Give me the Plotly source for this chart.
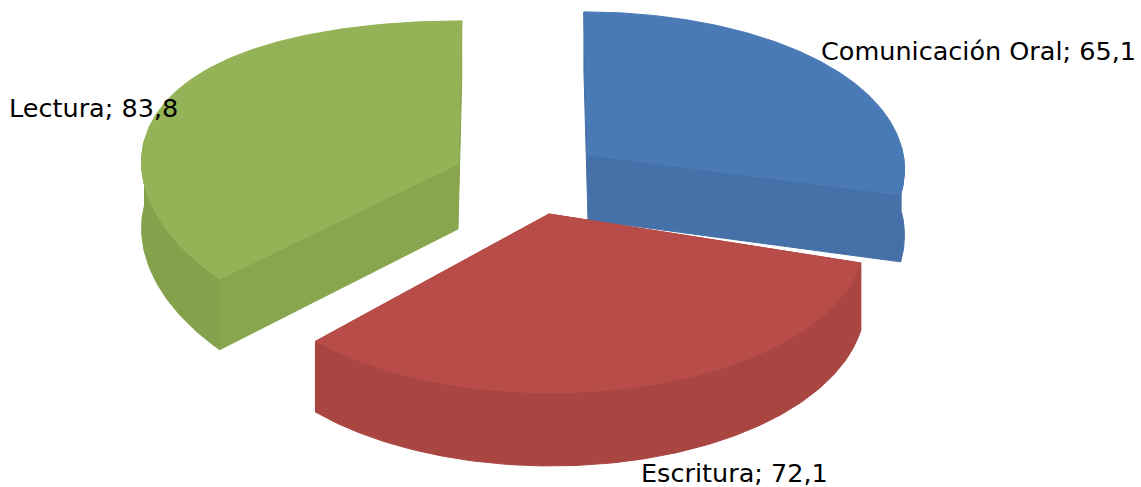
import numpy as np
import plotly.graph_objects as go

categories = ["Comunicación Oral", "Escritura", "Lectura"]
values = [65.1, 72.1, 83.8]
value_labels = ["65,1", "72,1", "83,8"]

top_colors = ["#4a7ab6", "#b84c48", "#94b356"]
side_colors = ["#4671a8", "#a94642", "#88a64e"]
wall_colors = ["#4671a8", "#a94642", "#84a14c"]

# apex and side flattening of each exploded slice on the pixel-like canvas
apex = {"Comunicación Oral": (588, 155), "Escritura": (549, 214), "Lectura": (458, 164)}
flatten = {"Comunicación Oral": 6, "Escritura": -4, "Lectura": 22}
label_pos = {"Comunicación Oral": (819, 51), "Escritura": (639, 473), "Lectura": (7, 108)}
draw_order = ["Comunicación Oral", "Lectura", "Escritura"]

RX, RY, K, DEPTH, VX, LEAN = 314, 159, 0.111, 65, 520, 0.6
W, H = 1141, 487


def project(cx, cy, radius, theta, down, flat):
    X, Y = radius * np.sin(theta), radius * np.cos(theta)
    s = 1 / (1 + K * Y)
    px = cx + RX * X * s + LEAN * (cx - VX) * (s - 1)
    py = cy - RY * Y * s + down * s - flat * X * X
    return px, py


fig = go.Figure()


def poly(xs, ys, color):
    fig.add_trace(go.Scatter(
        x=list(xs), y=list(ys), mode="lines", fill="toself", fillcolor=color,
        line=dict(color=color, width=1), hoverinfo="skip", showlegend=False))


edges = np.cumsum([0] + values) / sum(values) * 2 * np.pi
for name in draw_order:
    i = categories.index(name)
    a0, a1 = edges[i], edges[i + 1]
    cx, cy = apex[name]
    f = flatten[name]
    thetas = np.linspace(a0, a1, 160)
    # radial cut faces
    for a in (a0, a1):
        p = [project(cx, cy, r, a, d, f) for r, d in ((0, 0), (1, 0), (1, DEPTH), (0, DEPTH))]
        poly([q[0] for q in p], [q[1] for q in p], side_colors[i])
    # outer curved wall, front half only
    front = thetas[np.cos(thetas) < 0.02]
    if len(front):
        tx, ty = project(cx, cy, 1, front, 0, f)
        bx, by = project(cx, cy, 1, front, DEPTH, f)
        poly(np.r_[tx, bx[::-1]], np.r_[ty, by[::-1]], wall_colors[i])
    # top face
    ax, ay = project(cx, cy, 1, thetas, 0, f)
    poly(np.r_[cx, ax, cx], np.r_[cy, ay, cy], top_colors[i])

annotations = [
    dict(x=label_pos[c][0], y=label_pos[c][1], text=f"{c}; {v}", showarrow=False,
         xanchor="left", yanchor="middle", xref="x", yref="y",
         font=dict(family="DejaVu Sans", size=25.5, color="black"))
    for c, v in zip(categories, value_labels)
]

fig.update_layout(
    width=W, height=H, margin=dict(l=0, r=0, t=0, b=0),
    paper_bgcolor="white", plot_bgcolor="white", showlegend=False,
    xaxis=dict(range=[0, W], visible=False, fixedrange=True),
    yaxis=dict(range=[H, 0], visible=False, fixedrange=True),
    annotations=annotations,
)
fig.write_html("out.html", config={"displayModeBar": False},
               post_script="document.body.style.margin='0';document.body.style.overflow='hidden';")
